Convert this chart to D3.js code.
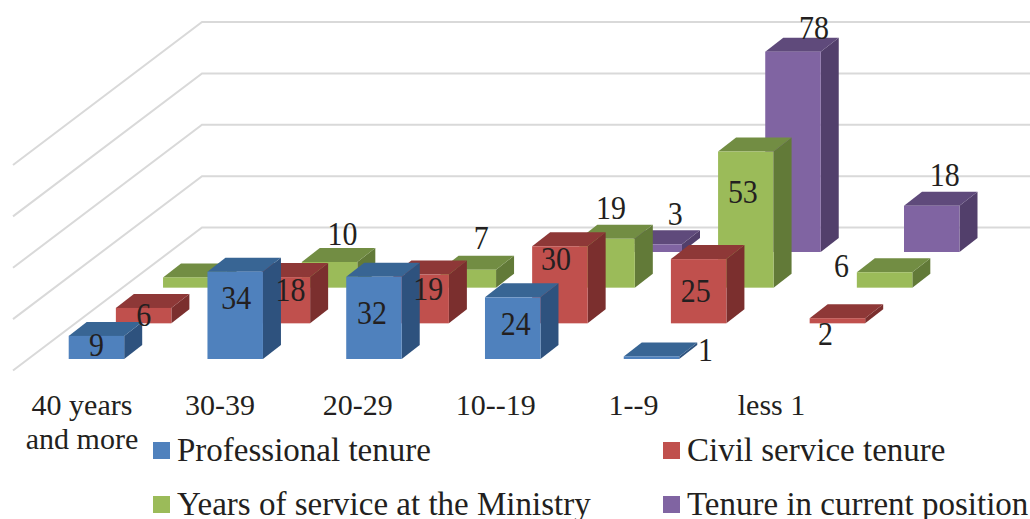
<!DOCTYPE html>
<html><head><meta charset="utf-8">
<script src="https://cdn.jsdelivr.net/npm/d3@7/dist/d3.min.js"></script>
<style>html,body{margin:0;padding:0;background:#fff}svg{display:block}text{font-family:"Liberation Serif",serif;fill:#231f20}</style>
</head><body><svg id="c" width="1030" height="519"></svg>
<script>
const categories = [["40 years","and more"],["30-39"],["20-29"],["10--19"],["1--9"],["less 1"]];
const seriesNames = ["Professional tenure","Civil service tenure","Years of service at the Ministry","Tenure in current position"];
const professional = [9,34,32,24,1,null];
const civil = [6,18,19,30,25,2];
const ministry = [4,10,7,19,53,6];
const current = [null,null,null,3,78,18];
const gridTicks = [0,20,40,60,80];

const seriesValues = [professional,civil,ministry,current];
const faces = [
 {front:"#4f81bd",top:"#386594",side:"#2e527e"},
 {front:"#c0504d",top:"#8e3837",side:"#7b2f2e"},
 {front:"#9bbb59",top:"#728d43",side:"#627a38"},
 {front:"#8064a2",top:"#5f4a7b",side:"#523f6b"}];
// label nudges from bar front-top centre: [dx,dy] per series/category
const nudges = [
 [[0,8],[1,26],[-2,36],[3,26],[54,-7],null],
 [[0,6],[8,12],[7,14],[-4,12],[-3,31],[-12,15]],
 [null,[13,-29],[13,-32],[4,-32],[-3,40],[-43,-7]],
 [null,null,null,[21,-31],[21,-24],[13,-31]]];

const svg = d3.select("#c");
const barW = 55.5, depthX = 18, depthY = 14;
const xCat = d3.scaleLinear().domain([0,5]).range([68.7,762.5]);
const xLabel = d3.scaleLinear().domain([0,5]).range([82,771.5]);
const xSer = d3.scaleLinear().domain([0,3]).range([0,141.5]);
const ySer = d3.scaleLinear().domain([0,3]).range([359,252]);
const h = d3.scaleLinear().domain([0,80]).range([0,205.5]);

// grid
const backY = d3.scaleLinear().domain([0,80]).range([227.5,22]);
const grid = svg.append("g").attr("fill","none").attr("stroke","#d9d9d9").attr("stroke-width",2);
grid.selectAll("path").data(gridTicks).join("path")
  .attr("d",t=>{const y=backY(t);return `M13,${y+143}L202,${y}L1030,${y}`;});

const pts = a=>a.map(p=>p.join(",")).join(" ");
seriesValues.map((vals,s)=>({vals,s})).reverse().forEach(({vals,s})=>{
  const g = svg.append("g");
  const d = vals.map((v,i)=>({v,i})).filter(e=>e.v!==null);
  const geo = e=>{const x=xCat(e.i)+xSer(s), b=ySer(s), t=b-h(e.v);return {x,b,t};};
  const bars = g.selectAll("g").data(d).join("g");
  bars.append("polygon").attr("fill",faces[s].side).attr("points",e=>{const {x,b,t}=geo(e);
    return pts([[x+barW,b],[x+barW+depthX,b-depthY],[x+barW+depthX,t-depthY],[x+barW,t]]);});
  bars.append("polygon").attr("fill",faces[s].top).attr("points",e=>{const {x,t}=geo(e);
    return pts([[x,t],[x+depthX,t-depthY],[x+barW+depthX,t-depthY],[x+barW,t]]);});
  bars.append("rect").attr("fill",faces[s].front)
    .attr("x",e=>geo(e).x).attr("y",e=>geo(e).t).attr("width",barW).attr("height",e=>h(e.v));
});

// value labels on top of all bars (condensed, as in the reference)
const labels = [];
seriesValues.forEach((vals,s)=>vals.forEach((v,i)=>{
  if(v!==null && nudges[s][i]) labels.push({v,s,i,n:nudges[s][i]});
}));
svg.append("g").selectAll("text").data(labels).join("text")
  .attr("text-anchor","middle").attr("dominant-baseline","central")
  .style("font-size","34px")
  .attr("transform",e=>`translate(${xCat(e.i)+xSer(e.s)+barW/2+e.n[0]},${ySer(e.s)-h(e.v)+e.n[1]}) scale(0.88,1)`)
  .text(e=>e.v);

// category labels
const cats = svg.append("g").selectAll("text").data(categories).join("text")
  .attr("text-anchor","middle").style("font-size","30px")
  .attr("transform",(c,i)=>`translate(${xLabel(i)},415)`);
cats.selectAll("tspan").data(c=>c).join("tspan")
  .attr("x",0).attr("dy",(l,j)=>j?34:0).text(l=>l);

// legend
const legX = d3.scalePoint().domain([0,1]).range([153,663]);
const legY = d3.scalePoint().domain([0,1]).range([442,496]);
const leg = svg.append("g").selectAll("g").data(seriesNames).join("g")
  .attr("transform",(n,i)=>`translate(${legX(i%2)},${legY(Math.floor(i/2))})`);
leg.append("rect").attr("width",17).attr("height",17).attr("fill",(n,i)=>faces[i].front);
leg.append("text").attr("x",24).attr("y",19).style("font-size","33px").text(n=>n);
</script></body></html>
